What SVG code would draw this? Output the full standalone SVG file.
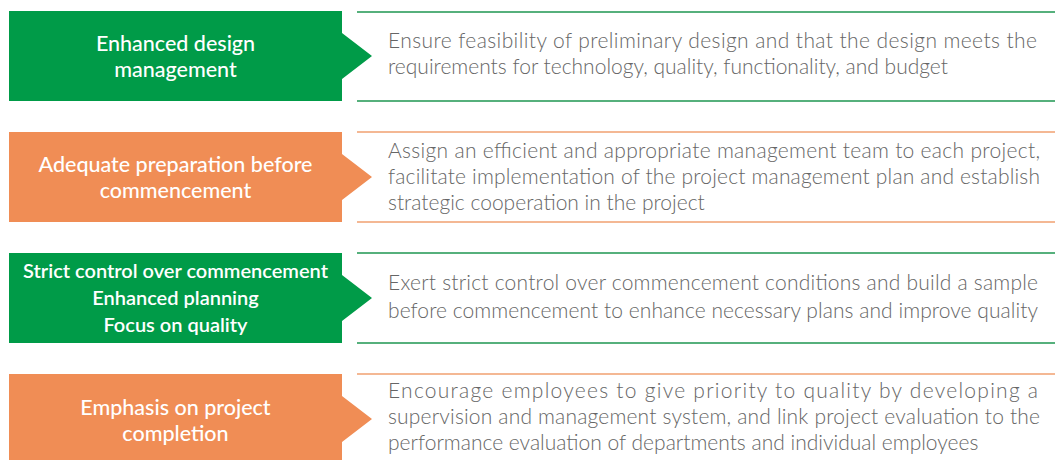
<svg xmlns="http://www.w3.org/2000/svg" width="1055" height="460" viewBox="0 0 1055 460">
<style>
.bg{fill:#ffffff}
.g{fill:#009B48}
.o{fill:#F08D55}
.lg{stroke:#1E9650;stroke-width:1.3;fill:none}
.lo{stroke:#F0A070;stroke-width:1.3;fill:none}
.lab{font-family:"Lato","Liberation Sans",sans-serif;font-weight:500;font-size:21.5px;fill:#ffffff;text-anchor:middle}
.lab3{font-family:"Lato","Liberation Sans",sans-serif;font-weight:600;font-size:20px;fill:#ffffff;text-anchor:middle}
.desc{font-family:"Lato","Liberation Sans",sans-serif;font-weight:300;font-size:21px;fill:#666666}
</style>
<defs>
<polygon id="shape" points="9,0 342,0 342,22 372,45 342,68 342,90 9,90"/>
</defs>
<rect class="bg" x="0" y="0" width="1055" height="460"/>
<g id="node1" transform="translate(0,11)">
<use href="#shape" class="g"/>
<line class="lg" x1="357" y1="1" x2="1055" y2="1"/>
<line class="lg" x1="357" y1="90" x2="1055" y2="90"/>
<text class="lab" x="175.5" y="40">Enhanced design</text>
<text class="lab" x="175.5" y="66">management</text>
<text class="desc" x="388" y="37" textLength="649" lengthAdjust="spacing">Ensure feasibility of preliminary design and that the design meets the</text>
<text class="desc" x="388" y="63">requirements for technology, quality, functionality, and budget</text>
</g>
<g id="node2" transform="translate(0,132)">
<use href="#shape" class="o"/>
<line class="lo" x1="357" y1="0" x2="1055" y2="0"/>
<line class="lo" x1="357" y1="90" x2="1055" y2="90"/>
<text class="lab" x="175.5" y="40">Adequate preparation before</text>
<text class="lab" x="175.5" y="66">commencement</text>
<text class="desc" x="388" y="26" textLength="652" lengthAdjust="spacing">Assign an efficient and appropriate management team to each project,</text>
<text class="desc" x="388" y="52" textLength="652" lengthAdjust="spacing">facilitate implementation of the project management plan and establish</text>
<text class="desc" x="388" y="78">strategic cooperation in the project</text>
</g>
<g id="node3" transform="translate(0,253)">
<use href="#shape" class="g"/>
<line class="lg" x1="357" y1="0" x2="1055" y2="0"/>
<line class="lg" x1="357" y1="90" x2="1055" y2="90"/>
<text class="lab3" x="175.5" y="25">Strict control over commencement</text>
<text class="lab3" x="175.5" y="52">Enhanced planning</text>
<text class="lab3" x="175.5" y="79">Focus on quality</text>
<text class="desc" x="388" y="37" textLength="650" lengthAdjust="spacing">Exert strict control over commencement conditions and build a sample</text>
<text class="desc" x="388" y="65" textLength="650" lengthAdjust="spacing">before commencement to enhance necessary plans and improve quality</text>
</g>
<g id="node4" transform="translate(0,374)">
<use href="#shape" class="o"/>
<line class="lo" x1="357" y1="0" x2="1055" y2="0"/>
<text class="lab" x="175.5" y="41">Emphasis on project</text>
<text class="lab" x="175.5" y="67">completion</text>
<text class="desc" x="388" y="24" textLength="650" lengthAdjust="spacing">Encourage employees to give priority to quality by developing a</text>
<text class="desc" x="388" y="50" textLength="652" lengthAdjust="spacing">supervision and management system, and link project evaluation to the</text>
<text class="desc" x="388" y="76">performance evaluation of departments and individual employees</text>
</g>
<g id="connectors"></g>
</svg>
